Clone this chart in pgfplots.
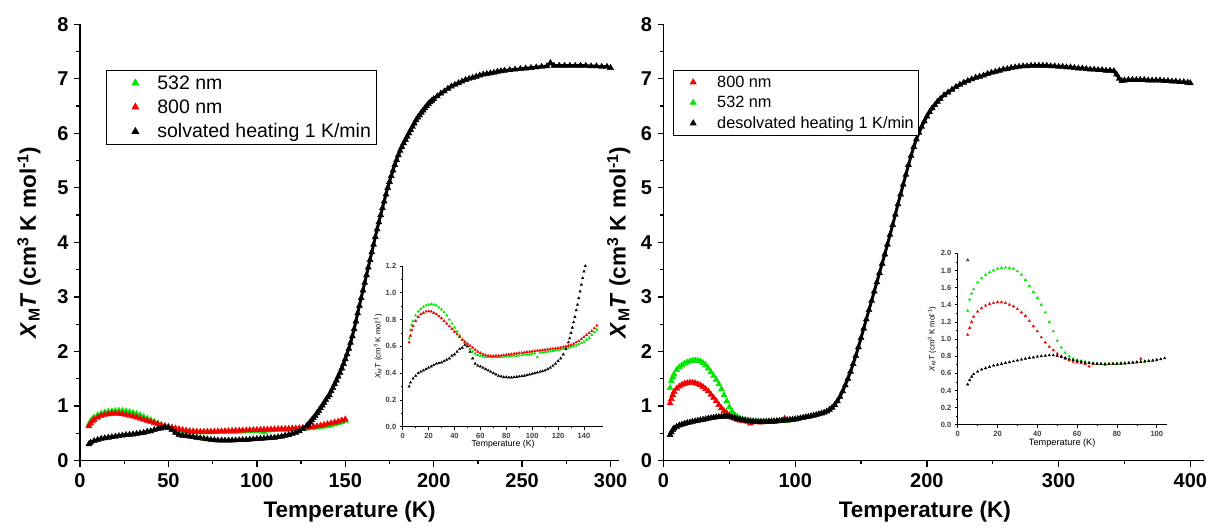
\documentclass[border=0pt]{standalone}
\usepackage{fontspec}
\setmainfont{Liberation Sans}
\usepackage{pgfplots}
\usepackage{pgfplotstable}
\pgfplotsset{compat=1.18}
\definecolor{myGreen}{RGB}{0,230,0}
\definecolor{myRed}{RGB}{240,0,0}
\newcommand{\fs}[2]{\fontsize{#1}{#2}\selectfont}

% ---------- solvated (left) ----------
\pgfplotstableread{
T y
5 0.30
6 0.33
8 0.36
10 0.38
12 0.40
14 0.41
16 0.42
18 0.43
20 0.44
22 0.45
24 0.46
26 0.47
28 0.475
30 0.48
32 0.49
34 0.50
36 0.51
38 0.53
40 0.54
42 0.56
44 0.58
46 0.59
48 0.61
50 0.60
52 0.56
54 0.51
56 0.47
58 0.455
60 0.45
62 0.44
64 0.43
66 0.42
68 0.41
70 0.40
72 0.39
74 0.38
76 0.375
78 0.37
80 0.37
82 0.368
84 0.368
86 0.37
88 0.372
90 0.375
92 0.378
94 0.38
96 0.385
98 0.39
100 0.395
102 0.40
104 0.405
106 0.41
108 0.415
110 0.42
112 0.43
114 0.44
116 0.455
118 0.47
120 0.49
122 0.51
124 0.54
126 0.58
128 0.63
129 0.66
130 0.70
131 0.74
132 0.78
133 0.82
134 0.87
135 0.91
136 0.96
137 1.01
138 1.06
139 1.11
140 1.16
141 1.20
142 1.27
143 1.33
144 1.40
145 1.47
146 1.54
147 1.61
148 1.69
149 1.77
150 1.86
151 1.95
152 2.05
153 2.16
154 2.28
155 2.41
156 2.55
157 2.70
158 2.84
159 2.98
160 3.12
161 3.26
162 3.40
163 3.54
164 3.68
165 3.82
166 3.96
167 4.10
168 4.24
169 4.37
170 4.50
171 4.63
172 4.75
173 4.88
174 5.00
175 5.11
176 5.22
177 5.32
178 5.42
179 5.51
180 5.60
181 5.68
182 5.75
183 5.82
184 5.88
185 5.94
186 6.00
187 6.06
188 6.12
189 6.18
190 6.24
191 6.29
192 6.33
193 6.38
194 6.42
195 6.46
196 6.50
197 6.54
198 6.57
199 6.60
200 6.63
202 6.68
204 6.73
206 6.77
208 6.82
210 6.86
212 6.89
214 6.92
216 6.95
218 6.98
220 7.00
222 7.02
224 7.04
226 7.06
228 7.08
230 7.09
232 7.10
234 7.11
236 7.13
238 7.14
240 7.15
243 7.16
246 7.17
249 7.18
252 7.19
255 7.20
258 7.21
261 7.22
264 7.23
266 7.29
268 7.24
271 7.24
274 7.24
277 7.24
280 7.24
283 7.24
286 7.24
289 7.23
292 7.23
295 7.22
298 7.22
300 7.20
}\solBlack

\pgfplotstableread{
T y
5 0.66
6 0.72
7 0.76
8 0.79
10 0.83
12 0.86
14 0.88
16 0.895
18 0.905
20 0.91
22 0.915
24 0.912
26 0.905
28 0.89
30 0.875
32 0.855
34 0.83
36 0.80
38 0.77
40 0.74
42 0.71
44 0.68
46 0.65
48 0.625
50 0.60
52 0.58
54 0.56
56 0.545
58 0.535
60 0.53
62 0.525
64 0.52
66 0.52
68 0.518
70 0.518
72 0.52
74 0.52
76 0.52
78 0.522
80 0.525
82 0.527
84 0.528
86 0.53
88 0.53
90 0.532
92 0.535
94 0.537
96 0.54
98 0.542
100 0.545
102 0.548
104 0.52
106 0.552
108 0.555
110 0.558
112 0.56
114 0.563
116 0.566
118 0.57
120 0.573
122 0.577
124 0.58
126 0.585
128 0.59
130 0.595
132 0.60
134 0.607
136 0.615
138 0.625
140 0.635
142 0.65
144 0.665
146 0.685
148 0.705
150 0.725
}\solGreen

\pgfplotstableread{
T y
5 0.63
6 0.68
7 0.72
8 0.75
10 0.79
12 0.82
14 0.84
16 0.85
18 0.86
20 0.862
22 0.86
24 0.85
26 0.84
28 0.825
30 0.81
32 0.79
34 0.77
36 0.75
38 0.73
40 0.71
42 0.69
44 0.67
46 0.65
48 0.635
50 0.62
52 0.605
54 0.59
56 0.575
58 0.56
60 0.55
62 0.54
64 0.535
66 0.53
68 0.528
70 0.528
72 0.53
74 0.53
76 0.532
78 0.535
80 0.537
82 0.54
84 0.542
86 0.545
88 0.547
90 0.55
92 0.552
94 0.555
96 0.558
98 0.56
100 0.562
102 0.565
104 0.567
106 0.57
108 0.572
110 0.575
112 0.577
114 0.58
116 0.582
118 0.585
120 0.588
122 0.59
124 0.595
126 0.60
128 0.605
130 0.61
132 0.62
134 0.63
136 0.64
138 0.655
140 0.67
142 0.685
144 0.70
146 0.715
148 0.735
150 0.755
}\solRed

% ---------- desolvated (right) ----------
\pgfplotstableread{
T y
5 0.47
6 0.52
7 0.56
8 0.59
10 0.62
12 0.645
14 0.66
16 0.675
18 0.69
20 0.70
22 0.71
24 0.72
26 0.73
28 0.74
30 0.75
32 0.76
34 0.77
36 0.78
38 0.785
40 0.795
42 0.80
44 0.805
46 0.81
48 0.81
50 0.805
52 0.79
54 0.78
56 0.765
58 0.755
60 0.745
62 0.735
64 0.725
66 0.72
68 0.715
70 0.712
72 0.71
74 0.708
76 0.708
78 0.708
80 0.71
82 0.712
84 0.715
86 0.72
88 0.725
90 0.73
92 0.735
94 0.74
96 0.745
98 0.75
100 0.758
102 0.765
104 0.775
106 0.785
108 0.795
110 0.805
112 0.815
114 0.825
116 0.835
118 0.85
120 0.865
122 0.88
124 0.90
126 0.93
128 0.97
130 1.02
132 1.09
134 1.17
136 1.27
138 1.38
140 1.50
142 1.63
144 1.77
146 1.92
148 2.08
150 2.25
152 2.42
154 2.59
156 2.76
158 2.93
160 3.10
162 3.27
164 3.44
166 3.61
168 3.78
170 3.96
172 4.14
174 4.32
176 4.51
178 4.70
180 4.88
182 5.06
184 5.24
186 5.42
188 5.59
190 5.75
192 5.89
194 6.01
196 6.12
198 6.22
200 6.31
202 6.39
204 6.46
206 6.52
208 6.58
210 6.63
213 6.70
216 6.75
219 6.80
222 6.85
225 6.89
228 6.93
231 6.96
234 6.99
237 7.02
240 7.04
243 7.06
246 7.09
249 7.11
252 7.13
255 7.15
258 7.17
261 7.18
264 7.20
267 7.21
270 7.22
273 7.23
276 7.23
279 7.24
282 7.24
285 7.24
288 7.24
291 7.24
294 7.23
297 7.23
300 7.22
303 7.22
306 7.21
309 7.21
312 7.20
315 7.19
318 7.19
321 7.18
324 7.17
327 7.17
330 7.16
333 7.16
336 7.15
339 7.15
342 7.14
344 7.08
346 7.00
348 6.96
350 6.97
353 6.98
356 6.98
359 6.98
362 6.98
365 6.98
368 6.97
371 6.97
374 6.97
377 6.97
380 6.96
383 6.96
386 6.95
389 6.95
392 6.94
395 6.94
398 6.93
400 6.92
}\desBlack

\pgfplotstableread{
T y
5 1.33
6 1.46
7 1.53
8 1.58
10 1.66
12 1.71
14 1.75
16 1.78
18 1.80
20 1.82
22 1.83
24 1.835
26 1.83
28 1.82
30 1.79
32 1.75
34 1.69
36 1.62
38 1.55
40 1.48
42 1.40
44 1.31
46 1.20
48 1.09
50 0.98
52 0.90
54 0.84
56 0.80
58 0.77
60 0.755
62 0.745
64 0.735
66 0.725
68 0.72
70 0.715
72 0.71
74 0.71
76 0.705
78 0.71
80 0.71
82 0.712
84 0.715
86 0.718
88 0.72
90 0.725
92 0.73
94 0.735
96 0.74
98 0.745
100 0.75
}\desGreen

\pgfplotstableread{
T y
5 1.05
6 1.13
7 1.20
8 1.26
10 1.32
12 1.36
14 1.39
16 1.41
18 1.42
20 1.43
22 1.43
24 1.42
26 1.40
28 1.38
30 1.35
32 1.31
34 1.27
36 1.21
38 1.15
40 1.09
42 1.02
44 0.96
46 0.91
48 0.87
50 0.83
52 0.80
54 0.77
56 0.75
58 0.735
60 0.725
62 0.72
64 0.71
66 0.68
68 0.705
70 0.71
72 0.705
74 0.70
76 0.71
78 0.715
80 0.715
82 0.72
84 0.72
86 0.725
88 0.725
90 0.73
92 0.77
94 0.73
}\desRed

\pgfplotsset{
  mainax/.style={
    scale only axis, anchor=south west,
    height=436.3pt, ymin=0, ymax=8, ytick={0,1,2,3,4,5,6,7,8},
    axis x line*=bottom, axis y line*=left,
    axis line style={line width=1.3pt,-},
    every tick/.style={line width=1.3pt,black},
    tick align=outside, major tick length=6pt, minor tick length=3.5pt,
    minor x tick num=1, minor y tick num=1,
    /pgf/number format/assume math mode=true,
    ticklabel style={font=\bfseries\fs{20}{20}},
    xticklabel style={yshift=-4pt},
    yticklabel style={xshift=-2pt},
    legend cell align=left,
  },
  insetax/.style={
    scale only axis, anchor=south west,
    axis x line*=bottom, axis y line*=left,
    axis line style={line width=0.7pt,-},
    every tick/.style={line width=0.6pt,black},
    tick align=outside, major tick length=3pt, minor tick length=1.8pt,
    minor x tick num=1, minor y tick num=1,
    /pgf/number format/assume math mode=true,
    ticklabel style={font=\bfseries\fs{7.5}{7.5}, text=black!75},
    yticklabel style={/pgf/number format/.cd,fixed,fixed zerofill,precision=1},
    xlabel={Temperature (K)},
    ylabel={\textit{X}\textsubscript{M}\textit{T} (cm\textsuperscript{3} K mol\textsuperscript{-1})},
  },
  bm/.style={only marks, mark=triangle*, mark size=3.5pt, mark options={draw=#1, fill=#1}},
  sm/.style={only marks, mark=triangle*, mark size=1.4pt, mark options={draw=#1, fill=#1}},
}

\begin{document}
\begin{tikzpicture}
\path[use as bounding box] (0,0) rectangle (1209pt,527pt);

% ===== left main =====
\begin{axis}[mainax, at={(80pt,66.5pt)}, width=539.4pt,
  xmin=0, xmax=305, xtick={0,50,100,150,200,250,300},
  xlabel={Temperature (K)},
  ylabel={\textit{X}\textsubscript{M}\textit{T} (cm\textsuperscript{3} K mol\textsuperscript{-1})},
  every axis x label/.style={at={(axis description cs:0.5,-0.118)}, anchor=center, font=\bfseries\fs{22.5}{24}},
  every axis y label/.style={at={(axis description cs:-0.0945,0.5)}, anchor=center, rotate=90, font=\bfseries\fs{22.5}{24}},
  legend image code/.code={\path[draw=none] (0pt,0pt) -- (46pt,0pt); \draw[#1, mark size=3.8pt] plot coordinates {(26pt,0pt)};},
  legend style={at={(axis description cs:0.0482,0.895)}, anchor=north west,
    draw=black, line width=0.8pt, font=\fs{19.5}{24}, inner xsep=3pt, inner ysep=3pt,
    row sep=5pt, /tikz/every even column/.append style={column sep=0pt}},
]
\addplot[bm=myGreen] table[x=T,y=y] {\solGreen};
\addlegendentry{532 nm}
\addplot[bm=myRed] table[x=T,y=y] {\solRed};
\addlegendentry{800 nm}
\addplot[black, line width=3pt, forget plot] table[x=T,y=y] {\solBlack};
\addplot[bm=black] table[x=T,y=y] {\solBlack};
\addlegendentry{solvated heating 1 K/min}
\end{axis}

% ===== left inset =====
\begin{axis}[insetax, at={(402.7pt,100.3pt)}, width=200.7pt, height=160.7pt,
  xmin=0, xmax=155, ymin=0, ymax=1.2,
  xtick={0,20,40,60,80,100,120,140}, ytick={0,0.2,0.4,0.6,0.8,1.0,1.2},
  every axis x label/.style={at={(axis description cs:0.5,-0.112)}, anchor=center, font=\fs{8.7}{9}},
  every axis y label/.style={at={(axis description cs:-0.123,0.5)}, anchor=center, rotate=90, font=\fs{7.8}{8}},
  restrict y to domain=0:1.21,
]
\addplot[sm=myGreen] table[x=T,y=y] {\solGreen};
\addplot[sm=myRed] table[x=T,y=y] {\solRed};
\addplot[sm=black] table[x=T,y=y] {\solBlack};
\end{axis}

% ===== right main =====
\begin{axis}[mainax, at={(663.5pt,66.5pt)}, width=540pt,
  xmin=0, xmax=410, xtick={0,100,200,300,400},
  xlabel={Temperature (K)},
  ylabel={\textit{X}\textsubscript{M}\textit{T} (cm\textsuperscript{3} K mol\textsuperscript{-1})},
  every axis x label/.style={at={(axis description cs:0.484,-0.118)}, anchor=center, font=\bfseries\fs{22.5}{24}},
  every axis y label/.style={at={(axis description cs:-0.083,0.5)}, anchor=center, rotate=90, font=\bfseries\fs{22.5}{24}},
  legend image code/.code={\path[draw=none] (0pt,0pt) -- (39pt,0pt); \draw[#1, mark size=3.3pt] plot coordinates {(17pt,0pt)};},
  legend style={at={(axis description cs:0.0172,0.894)}, anchor=north west,
    draw=black, line width=0.8pt, font=\fs{16.3}{20}, inner xsep=3pt, inner ysep=3pt,
    row sep=3.5pt, /tikz/every even column/.append style={column sep=0pt}},
]
\addplot[bm=myRed] table[x=T,y=y] {\desRed};
\addlegendentry{800 nm}
\addplot[bm=myGreen] table[x=T,y=y] {\desGreen};
\addlegendentry{532 nm}
\addplot[black, line width=3pt, forget plot] table[x=T,y=y] {\desBlack};
\addplot[bm=black] table[x=T,y=y] {\desBlack};
\addlegendentry{desolvated heating 1 K/min}
\end{axis}

% ===== right inset =====
\begin{axis}[insetax, at={(957.7pt,102.3pt)}, width=209pt, height=171.4pt,
  xmin=0, xmax=105, ymin=0, ymax=2.0,
  xtick={0,20,40,60,80,100}, ytick={0,0.2,0.4,0.6,0.8,1.0,1.2,1.4,1.6,1.8,2.0},
  every axis x label/.style={at={(axis description cs:0.5,-0.105)}, anchor=center, font=\fs{9.2}{9.5}},
  every axis y label/.style={at={(axis description cs:-0.123,0.5)}, anchor=center, rotate=90, font=\fs{7.8}{8}},
  restrict x to domain=0:105,
]
\addplot[sm=myRed] table[x=T,y=y] {\desRed};
\addplot[sm=myGreen] table[x=T,y=y] {\desGreen};
\addplot[sm=black] table[x=T,y=y] {\desBlack};
\addplot[only marks, mark=triangle, mark size=1.3pt, black] coordinates {(5,1.92)};
\end{axis}
\end{tikzpicture}
\end{document}
